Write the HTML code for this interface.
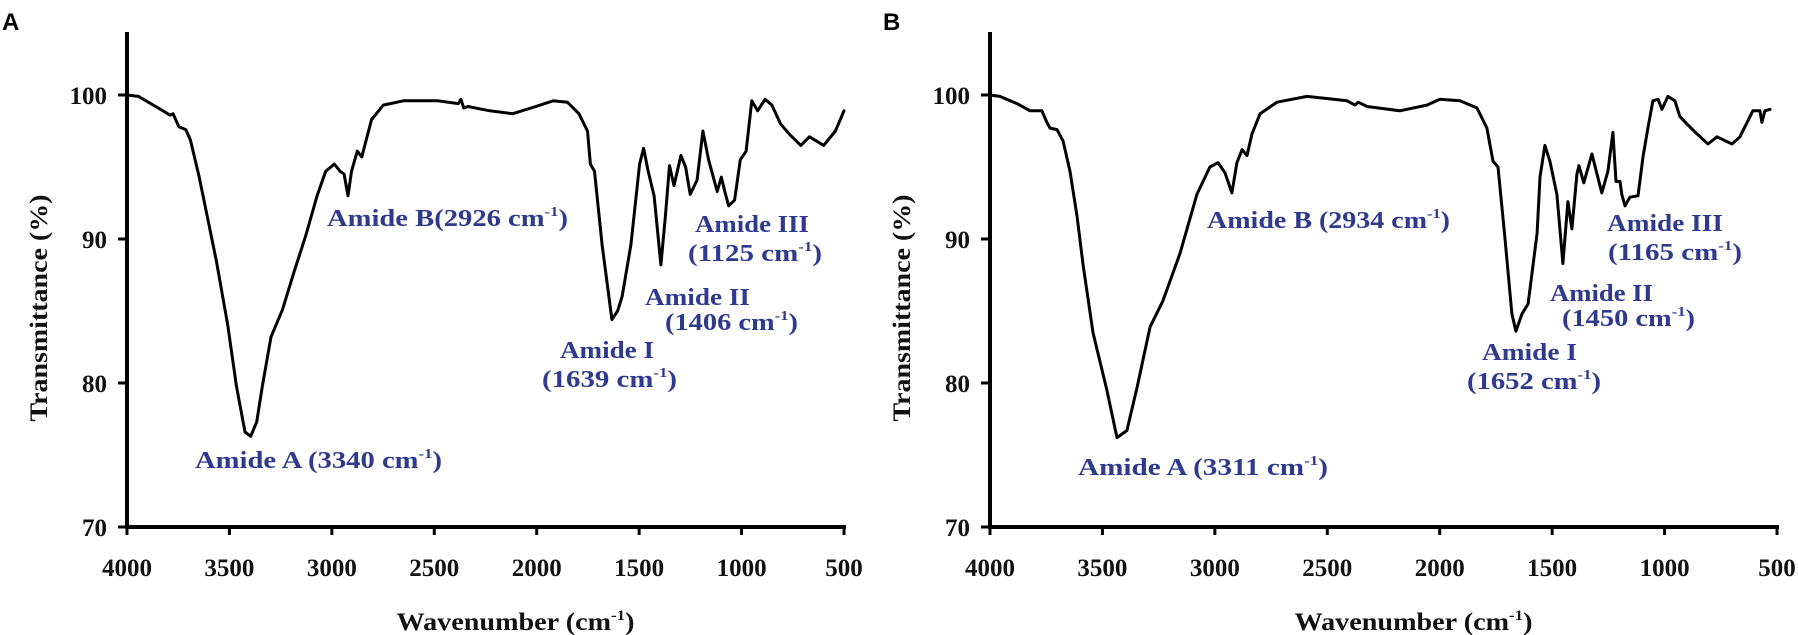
<!DOCTYPE html>
<html><head><meta charset="utf-8"><style>
html,body{margin:0;padding:0;background:#fff;}
svg{display:block;}
.tick{font-family:"Liberation Serif",serif;font-weight:bold;font-size:25px;fill:#111;}
.ttl{font-family:"Liberation Serif",serif;font-weight:bold;font-size:25px;fill:#111;}
.ann{font-family:"Liberation Serif",serif;font-weight:bold;font-size:24px;fill:#2f3a8f;}
.pl{font-family:"Liberation Sans",sans-serif;font-weight:bold;font-size:24px;fill:#000;}
</style></head><body>
<svg id="chart" width="1798" height="635" viewBox="0 0 1798 635" xmlns="http://www.w3.org/2000/svg">
<text class="pl" x="2" y="30">A</text>
<text class="pl" x="883" y="30">B</text>
<g id="pa"></g>
<g id="pb"></g>
</svg>
<script>
const xTicks = [4000, 3500, 3000, 2500, 2000, 1500, 1000, 500];
const yTicks = [70, 80, 90, 100];
const wnA = [4000,3944,3860,3789,3775,3747,3713,3691,3649,3620,3564,3508,3466,3424,3396,3367,3339,3297,3241,3185,3128,3072,3030,2988,2960,2940,2921,2904,2876,2854,2834,2806,2749,2651,2482,2383,2370,2356,2336,2229,2117,2004,1920,1850,1794,1752,1738,1718,1681,1633,1605,1583,1540,1498,1478,1456,1427,1394,1372,1352,1330,1296,1273,1251,1217,1189,1161,1119,1099,1082,1063,1034,1006,978,950,922,885,852,810,768,711,669,599,542,500];
const tA = [100,99.9,99.2,98.6,98.7,97.8,97.6,96.9,94.4,92.4,88.5,84,79.8,76.6,76.3,77.3,79.8,83.2,85.1,87.7,90.2,93,94.7,95.2,94.7,94.5,93,94.7,96.1,95.7,96.8,98.3,99.3,99.6,99.6,99.4,99.7,99.1,99.2,98.9,98.7,99.2,99.6,99.5,98.7,97.5,95.2,94.7,89.6,84.4,85,86,89.6,95.2,96.3,94.7,93,88.2,91.6,95.1,93.7,95.8,95,93.1,94.1,97.5,95.5,93.3,94.3,93.3,92.3,92.7,95.5,96.1,99.6,98.9,99.7,99.3,98,97.3,96.5,97.1,96.5,97.5,98.9];
const wnB = [4000,3956,3880,3822,3769,3747,3733,3702,3675,3644,3613,3586,3542,3480,3435,3391,3346,3288,3231,3155,3080,3022,2986,2955,2924,2902,2879,2857,2835,2799,2724,2590,2412,2377,2362,2323,2177,2057,1999,1910,1834,1790,1763,1741,1710,1679,1661,1634,1607,1567,1554,1532,1510,1479,1452,1430,1412,1390,1381,1359,1323,1279,1252,1230,1216,1198,1190,1176,1154,1118,1096,1074,1052,1029,1012,985,954,932,901,856,807,767,700,665,607,576,567,554,531];
const tB = [100,99.9,99.4,98.9,98.9,98.1,97.7,97.6,96.8,94.7,91.6,88.2,83.5,79.5,76.2,76.7,79.7,83.9,85.7,89,93.1,95,95.3,94.6,93.2,95.3,96.2,95.8,97.3,98.7,99.5,99.9,99.6,99.3,99.5,99.2,98.9,99.3,99.7,99.6,99.1,97.7,95.4,95,90.1,84.8,83.6,84.8,85.5,90.4,94.3,96.5,95.4,93.1,88.3,92.6,90.7,94.5,95.1,93.9,95.9,93.2,94.7,97.4,94,94,93.1,92.3,92.9,93,95.7,97.7,99.6,99.7,99,99.9,99.6,98.5,98,97.3,96.6,97.1,96.6,97.1,98.9,98.9,98.1,98.9,99];
const NS='http://www.w3.org/2000/svg';
function mk(tag, attrs, parent){const e=document.createElementNS(NS,tag);for(const k in attrs)e.setAttribute(k,attrs[k]);parent.appendChild(e);return e;}
function panel(g, x0, x1, wn, tv, anns, key){
  const y100=95, y70=527, yTop=32;
  const sx = w => x0 + (4000-w)/3500*(x1-x0);
  const sy = t => y70 - (t-70)/30*(y70-y100);
  let a=mk('line',{x1:x0,y1:yTop,x2:x0,y2:y70+2,stroke:'#000','stroke-width':4},g);
  
  
  a=mk('line',{x1:x0-2,y1:y70,x2:x1+2,y2:y70,stroke:'#000','stroke-width':4},g);
  
  
  xTicks.forEach(v=>{
    const x=sx(v);
    const l=mk('line',{x1:x,y1:y70,x2:x,y2:y70+8,stroke:'#000','stroke-width':3},g);
    
    
    const t=mk('text',{x:x,y:576,'text-anchor':'middle',class:'tick'},g);
    t.textContent=v;
    
    
  });
  yTicks.forEach(v=>{
    const y=sy(v);
    const l=mk('line',{x1:x0-9,y1:y,x2:x0,y2:y,stroke:'#000','stroke-width':3},g);
    
    
    const t=mk('text',{x:x0-20,y:y+9,'text-anchor':'end',class:'tick'},g);
    t.textContent=v;
    
    
  });
  const pts=wn.map((w,i)=>sx(w).toFixed(1)+','+sy(tv[i]).toFixed(1)).join(' ');
  const p=mk('polyline',{points:pts,fill:'none',stroke:'#000','stroke-width':3,'stroke-linejoin':'round','stroke-linecap':'round'},g);
  
  
  const yt=mk('text',{x:0,y:0,'text-anchor':'middle',class:'ttl',transform:`translate(${x0-80},308) rotate(-90)`,textLength:227,lengthAdjust:'spacingAndGlyphs'},g);
  yt.textContent='Transmittance (%)';
  
  
  const xt=mk('text',{x:(x0+x1)/2+30,y:630,'text-anchor':'middle',class:'ttl',textLength:238,lengthAdjust:'spacingAndGlyphs'},g);
  xt.innerHTML='Wavenumber (cm<tspan font-size="15" dy="-10">-1</tspan><tspan dy="10">)</tspan>';
  
  
  anns.forEach(a=>{
    const t=mk('text',{x:a[0],y:a[1],class:'ann',textLength:a[3],lengthAdjust:'spacingAndGlyphs'},g);
    const s=a[2];
    if(s.indexOf('cm')>=0){
      const parts=s.split('cm');
      t.innerHTML=parts[0]+'cm<tspan font-size="14" dy="-10">-1</tspan><tspan dy="10">)</tspan>';
    } else t.textContent=s;
    
    
  });
}
panel(document.getElementById('pa'),127,844,wnA,tA,[
  [327,226,'Amide B(2926 cm',241],
  [695,232,'Amide III',114],
  [688,261,'(1125 cm',134],
  [645,305,'Amide II',105],
  [665,330,'(1406 cm',133],
  [560,358,'Amide I',94],
  [542,387,'(1639 cm',135],
  [195,468,'Amide A (3340 cm',247]
],'a');
panel(document.getElementById('pb'),990,1777,wnB,tB,[
  [1207,228,'Amide B (2934 cm',243],
  [1607,231,'Amide III',116],
  [1608,260,'(1165 cm',134],
  [1550,301,'Amide II',103],
  [1562,326,'(1450 cm',133],
  [1482,360,'Amide I',95],
  [1467,389,'(1652 cm',134],
  [1078,475,'Amide A (3311 cm',250]
],'b');
</script>
</body></html>
